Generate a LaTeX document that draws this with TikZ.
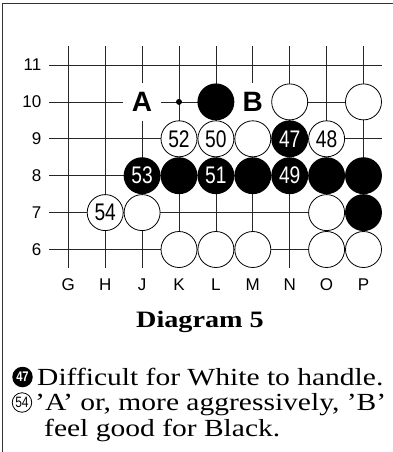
\documentclass[tikz,border=0pt]{standalone}
\usepackage{fontspec}
\setmainfont{Liberation Serif}
\newfontfamily\boardfont{Liberation Sans}
\newfontfamily\stonefont[FakeStretch=0.8]{Liberation Sans}
\newfontfamily\captfont[FakeStretch=1.2]{Liberation Serif}
\begin{document}
\begin{tikzpicture}[x=1pt,y=-1pt,
  gridline/.style={line width=0.8pt,black!85},
  wst/.style={circle,draw=black,fill=white,line width=0.8pt,minimum size=36pt,inner sep=0pt,
    font=\stonefont\fontsize{24}{24}\selectfont},
  bst/.style={circle,fill=black,text=white,minimum size=36.9pt,inner sep=0pt,
    font=\stonefont\fontsize{24}{24}\selectfont},
  lbl/.style={fill=white,minimum size=38pt,inner sep=0pt,
    font=\boardfont\bfseries\fontsize{28}{28}\selectfont},
  coordlbl/.style={font=\boardfont\fontsize{17}{17}\selectfont,inner sep=0pt},
  txt/.style={anchor=base west,inner sep=0pt,font=\captfont\fontsize{24.6}{24.6}\selectfont},
  iconb/.style={circle,fill=black,text=white,minimum size=20.5pt,inner sep=0pt,
    font=\stonefont\bfseries\fontsize{14}{14}\selectfont},
  iconw/.style={circle,draw=black,fill=white,line width=0.8pt,minimum size=19.5pt,inner sep=0pt,
    font=\stonefont\fontsize{15}{15}\selectfont}]
\useasboundingbox (0,0) rectangle (393,452);
% frame
\draw[line width=1.1pt,black!80] (2.7,452) -- (2.7,3.5) -- (393,3.5);
% coordinates
\foreach \c [count=\i from 0] in {G,H,J,K,L,M,N,O,P}{
  \foreach \r in {6,...,11}{
    \coordinate (\c\r) at ({68.3+36.9*\i},{65+36.9*(11-\r)});
  }
}
% grid
\foreach \c in {G,H,J,K,L,M,N,O,P}{
  \draw[gridline] ([yshift=18.5pt]\c11) -- ([yshift=-18.8pt]\c6);
  \node[coordlbl] (col\c) at ([yshift=-35.5pt]\c6) {\c};
}
\foreach \r in {6,...,11}{
  \draw[gridline] ([xshift=-19pt]G\r) -- ([xshift=18.3pt]P\r);
  \node[coordlbl,anchor=east] (row\r) at ([xshift=-26.8pt]G\r) {\r};
}
% labels A, B
\node[lbl] (lA) at (J10) {A};
\node[lbl] (lB) at (M10) {B};
\fill (K10) circle (3pt);
% white stones
\node[wst] (wN10) at (N10) {};
\node[wst] (wP10) at (P10) {};
\node[wst] (w52) at (K9) {52};
\node[wst] (w50) at (L9) {50};
\node[wst] (wM9) at (M9) {};
\node[wst] (w48) at (O9) {48};
\node[wst] (w54) at (H7) {54};
\node[wst] (wJ7) at (J7) {};
\node[wst] (wO7) at (O7) {};
\node[wst] (wK6) at (K6) {};
\node[wst] (wL6) at (L6) {};
\node[wst] (wM6) at (M6) {};
\node[wst] (wO6) at (O6) {};
\node[wst] (wP6) at (P6) {};
% black stones
\node[bst] (bL10) at (L10) {};
\node[bst] (b47) at (N9) {47};
\node[bst] (b53) at (J8) {53};
\node[bst] (bK8) at (K8) {};
\node[bst] (b51) at (L8) {51};
\node[bst] (bM8) at (M8) {};
\node[bst] (b49) at (N8) {49};
\node[bst] (bO8) at (O8) {};
\node[bst] (bP8) at (P8) {};
\node[bst] (bP7) at (P7) {};
% caption
\node[anchor=base,inner sep=0pt,font=\captfont\bfseries\fontsize{23.5}{23.5}\selectfont] (title) at (200,327) {Diagram 5};
\node[iconb] (i47) at (22.5,377) {47};
\node[txt] (t1) at (37,385) {Difficult for White to handle.};
\node[iconw] (i54) at (22,402.5) {54};
\node[txt] (t2) at (35,410) {’A’ or, more aggressively, ’B’};
\node[txt] (t3) at (44,436) {feel good for Black.};
\end{tikzpicture}
\end{document}
